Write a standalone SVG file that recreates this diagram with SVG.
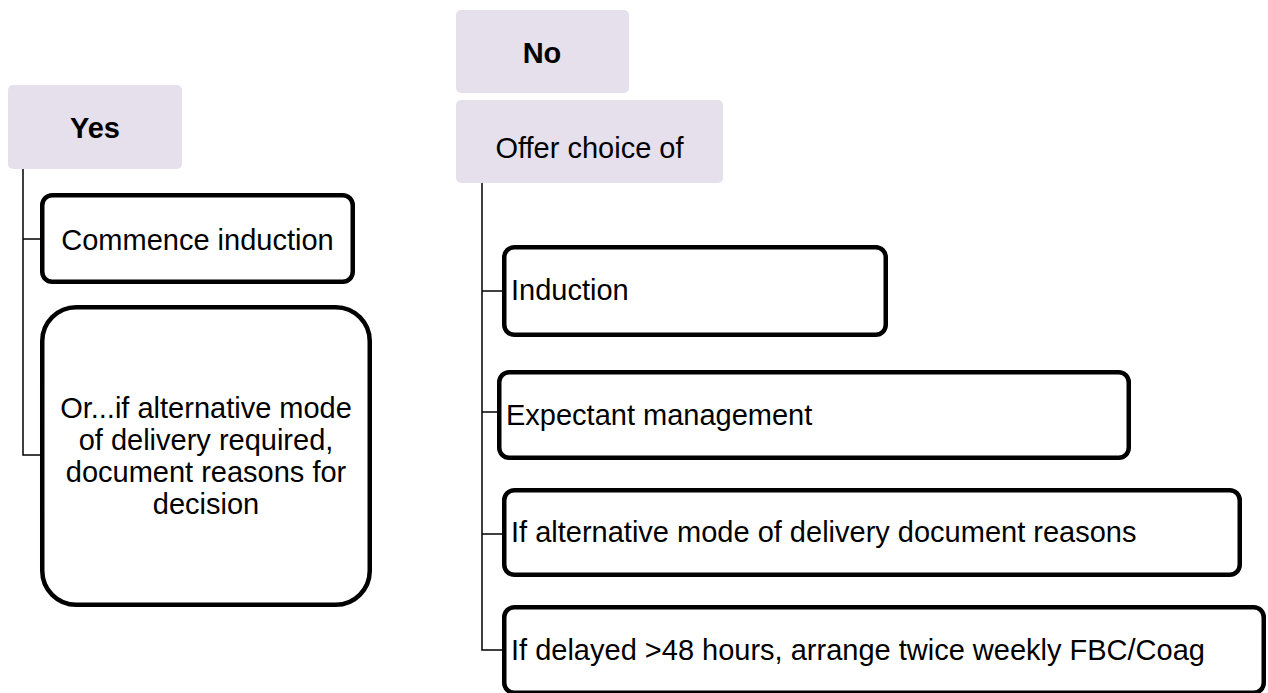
<svg xmlns="http://www.w3.org/2000/svg" width="1268" height="693" viewBox="0 0 1268 693">
  <style>
    .head { fill: #e5e0ec; stroke: none; }
    .box { fill: #ffffff; stroke: #000000; stroke-width: 4.5; }
    .link { fill: none; stroke: #000000; stroke-width: 1.5; }
    text { font-family: "Liberation Sans", Arial, sans-serif; font-size: 29px; fill: #000000; }
    .bold { font-weight: bold; }
    .mid { text-anchor: middle; }
  </style>
  <rect x="0" y="0" width="1268" height="693" fill="#ffffff"/>

  <!-- connectors -->
  <g id="connectors">
    <path class="link" d="M23 169 V455 H40 M23 239 H40"/>
    <path class="link" d="M482 183 V650 H502 M482 291 H502 M482 412 H497 M482 534 H502"/>
  </g>

  <!-- Yes branch -->
  <g id="yes">
    <rect class="head" x="8" y="85" width="174" height="84" rx="5"/>
    <text class="bold mid" x="95" y="138">Yes</text>
  </g>
  <g id="commence">
    <rect class="box" x="42.25" y="195.25" width="310.5" height="86.5" rx="10"/>
    <text class="mid" x="197.5" y="250">Commence induction</text>
  </g>
  <g id="alternative-yes">
    <rect class="box" x="42.25" y="307.25" width="327.5" height="297.5" rx="34"/>
    <text class="mid" x="206" y="418">Or...if alternative mode</text>
    <text class="mid" x="206" y="450">of delivery required,</text>
    <text class="mid" x="206" y="482">document reasons for</text>
    <text class="mid" x="206" y="514">decision</text>
  </g>

  <!-- No branch -->
  <g id="no">
    <rect class="head" x="456" y="10" width="173" height="83" rx="5"/>
    <text class="bold mid" x="542" y="63">No</text>
  </g>
  <g id="offer">
    <rect class="head" x="456" y="100" width="267" height="83" rx="5"/>
    <text class="mid" x="589.5" y="158">Offer choice of</text>
  </g>
  <g id="induction">
    <rect class="box" x="504.25" y="247.25" width="381.5" height="87.5" rx="10"/>
    <text x="511" y="300">Induction</text>
  </g>
  <g id="expectant">
    <rect class="box" x="499.25" y="372.25" width="629.5" height="85.5" rx="10"/>
    <text x="506" y="425">Expectant management</text>
  </g>
  <g id="alternative-no">
    <rect class="box" x="504.25" y="490.25" width="735.5" height="84.5" rx="10"/>
    <text x="511" y="542">If alternative mode of delivery document reasons</text>
  </g>
  <g id="delayed">
    <rect class="box" x="504.25" y="607.25" width="759.5" height="85.5" rx="10"/>
    <text x="511" y="660">If delayed &gt;48 hours, arrange twice weekly FBC/Coag</text>
  </g>
</svg>
